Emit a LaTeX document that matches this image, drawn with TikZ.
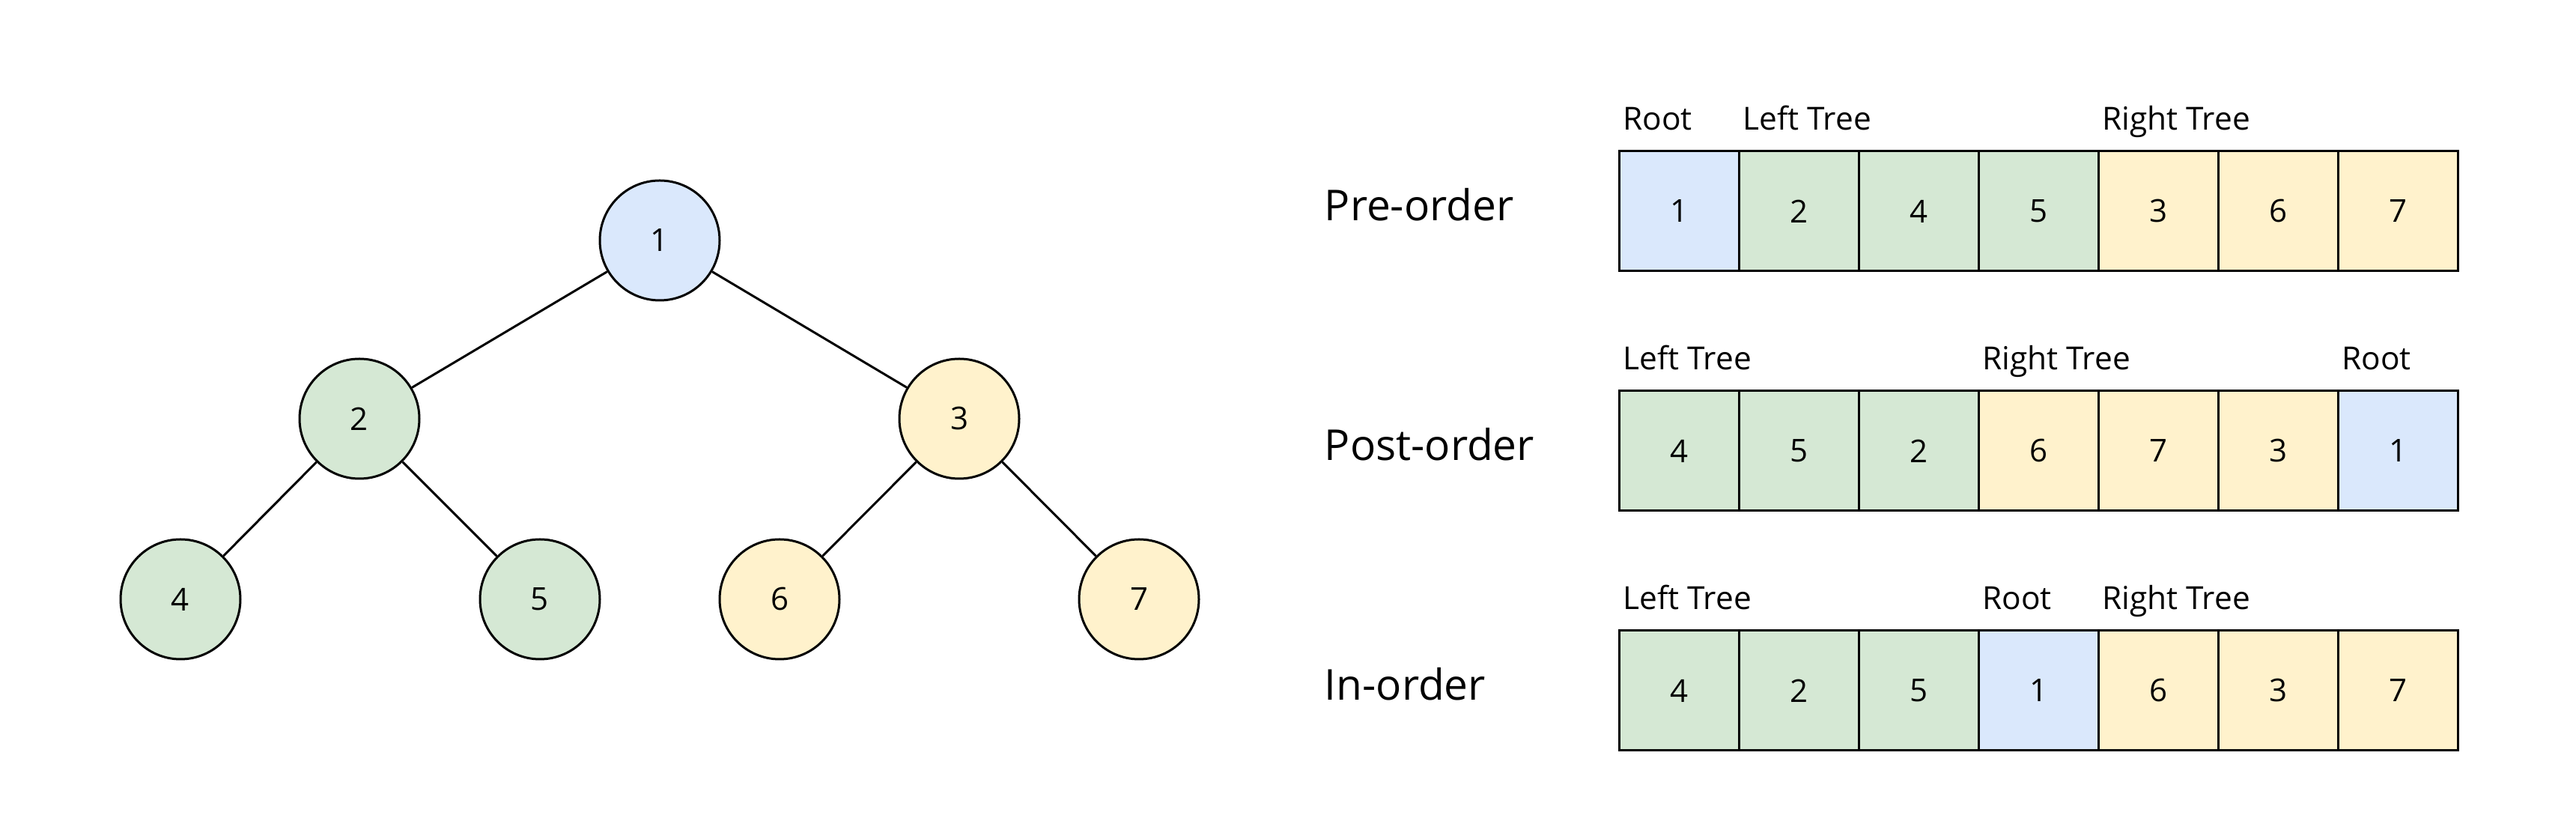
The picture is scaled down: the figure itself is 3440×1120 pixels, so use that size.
\documentclass[tikz,border=0pt]{standalone}
\usepackage{fontspec}
\setmainfont{Open Sans}
\usetikzlibrary{calc}
\definecolor{cblue}{HTML}{DAE8FC}
\definecolor{cgreen}{HTML}{D5E8D4}
\definecolor{cyellow}{HTML}{FFF2CC}
\begin{document}
\begin{tikzpicture}[x=0.25pt,y=-0.25pt,
 tnode/.style={circle,draw,line width=0.75pt,minimum size=40pt,inner sep=0pt,font=\fontsize{10.5}{12}\selectfont},
 cell/.style={rectangle,draw,line width=0.75pt,minimum width=40pt,minimum height=40pt,inner sep=0pt,font=\fontsize{10.5}{12}\selectfont},
 lbl/.style={anchor=base west,inner sep=0pt,font=\fontsize{10.6}{12}\selectfont},
 rowlbl/.style={anchor=base west,inner sep=0pt,font=\fontsize{14.2}{18}\selectfont},
 edge/.style={line width=0.75pt}]
\useasboundingbox (0,0) rectangle (3440,1120);
% tree
\node[tnode,fill=cblue] (n1) at (881,321) {1};
\node[tnode,fill=cgreen] (n2) at (480,559) {2};
\node[tnode,fill=cyellow] (n3) at (1281,559) {3};
\node[tnode,fill=cgreen] (n4) at (241,800) {4};
\node[tnode,fill=cgreen] (n5) at (721,800) {5};
\node[tnode,fill=cyellow] (n6) at (1041,800) {6};
\node[tnode,fill=cyellow] (n7) at (1521,800) {7};
\draw[edge] (n1) -- (n2);
\draw[edge] (n1) -- (n3);
\draw[edge] (n2) -- (n4);
\draw[edge] (n2) -- (n5);
\draw[edge] (n3) -- (n6);
\draw[edge] (n3) -- (n7);
% pre-order
\node[rowlbl] (prel) at (1768,295) {Pre-order};
\foreach \v/\c [count=\i] in {1/cblue,2/cgreen,4/cgreen,5/cgreen,3/cyellow,6/cyellow,7/cyellow}
  \node[cell,fill=\c] (pre\i) at ({2082+160*\i},282) {\v};
\node[lbl] (prea) at ($(pre1.north west)+(6,-27)$) {Root};
\node[lbl] (preb) at ($(pre2.north west)+(6,-27)$) {Left Tree};
\node[lbl] (prec) at ($(pre5.north west)+(6,-27)$) {Right Tree};
% post-order
\node[rowlbl] (postl) at (1768,615) {Post-order};
\foreach \v/\c [count=\i] in {4/cgreen,5/cgreen,2/cgreen,6/cyellow,7/cyellow,3/cyellow,1/cblue}
  \node[cell,fill=\c] (post\i) at ({2082+160*\i},602) {\v};
\node[lbl] (posta) at ($(post1.north west)+(6,-27)$) {Left Tree};
\node[lbl] (postb) at ($(post4.north west)+(6,-27)$) {Right Tree};
\node[lbl] (postc) at ($(post7.north west)+(6,-27)$) {Root};
% in-order
\node[rowlbl] (inl) at (1768,935) {In-order};
\foreach \v/\c [count=\i] in {4/cgreen,2/cgreen,5/cgreen,1/cblue,6/cyellow,3/cyellow,7/cyellow}
  \node[cell,fill=\c] (in\i) at ({2082+160*\i},922) {\v};
\node[lbl] (ina) at ($(in1.north west)+(6,-27)$) {Left Tree};
\node[lbl] (inb) at ($(in4.north west)+(6,-27)$) {Root};
\node[lbl] (inc) at ($(in5.north west)+(6,-27)$) {Right Tree};
\end{tikzpicture}
\end{document}
